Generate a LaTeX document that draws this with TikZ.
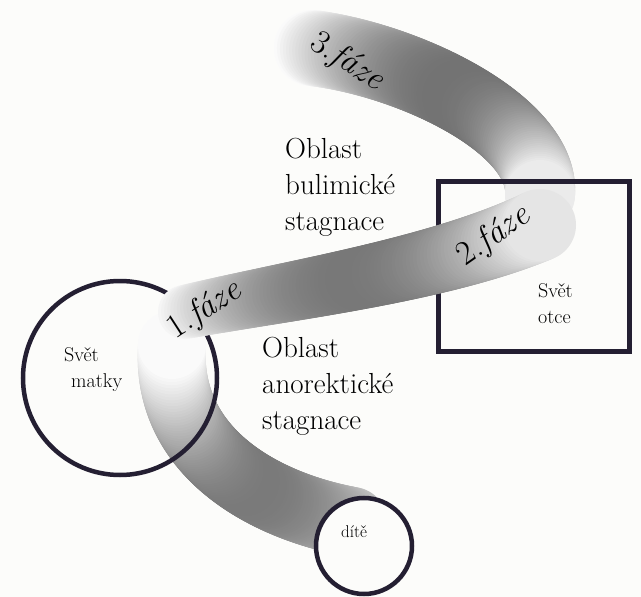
\documentclass[tikz,border=0pt]{standalone}
\definecolor{tmava}{RGB}{36,31,50}
\definecolor{papir}{RGB}{252,252,250}

% pas: body #1..#4, polomer #5 -> #6, odstin #7 -> #8, vrchol #9
\newcommand{\kresliPas}[9]{%
  \foreach \i in {0,...,100}{
    \pgfmathsetmacro{\t}{\i/100}
    \pgfmathsetmacro{\k}{#7+(#8-#7)*\t+#9*sin(180*\t)}
    \pgfmathsetmacro{\r}{#5+(#6-#5)*\t}
    \path #1 .. controls #2 and #3 .. #4 coordinate[pos=\t] (p);
    \fill[black!\k] (p) circle (\r);
  }%
}

\begin{document}
\begin{tikzpicture}[x=1pt, y=-1pt,
  obrys/.style={draw=tmava, line width=4.5pt},
  faze/.style={font=\fontsize{34}{34}\selectfont, inner sep=0pt},
  oblast/.style={font=\fontsize{29}{36}\selectfont, align=left, anchor=north west, inner sep=0pt},
  svet/.style={font=\fontsize{20}{26}\selectfont, align=left, anchor=north west, inner sep=0pt}]
  % podklad
  \fill[papir] (0,0) rectangle (641,597);
  \useasboundingbox (0,0) rectangle (641,597);
  % 3. faze (pod ramem otce)
  \kresliPas{(312,48)}{(410,60)}{(545,125)}{(540,195)}{38}{35}{2}{8}{50}
  % svet otce
  \draw[obrys, line width=5pt] (438,181) rectangle (629,351);
  % od ditete k matce
  \kresliPas{(352,522)}{(260,505)}{(165,450)}{(172,345)}{35}{34}{25}{2}{38}
  % svet matky
  \draw[obrys] (120,378) circle (97);
  % 1. faze -> 2. faze
  \kresliPas{(185,312)}{(290,290)}{(440,270)}{(540,225)}{27}{36}{4}{10}{46}
  % dite
  \draw[obrys, fill=papir] (364,546) circle (48);

  % popisky
  \node[faze, rotate=-33] (f3) at (347,62) {3.\textit{fáze}};
  \node[faze, rotate=35] (f2) at (494,236) {2.\textit{fáze}};
  \node[faze, rotate=33] (f1) at (205,310) {1.\textit{fáze}};
  \node[oblast] (bul) at (285,138) {Oblast\\bulimické\\stagnace};
  \node[oblast] (ano) at (262,337) {Oblast\\anorektické\\stagnace};
  \node[svet] (matka) at (64,347) {Svět\\\hspace*{7pt}matky};
  \node[svet] (otec) at (538,283) {Svět\\otce};
  \node[font=\fontsize{17}{17}\selectfont, anchor=base] (dite) at (354,537) {dítě};
\end{tikzpicture}
\end{document}
